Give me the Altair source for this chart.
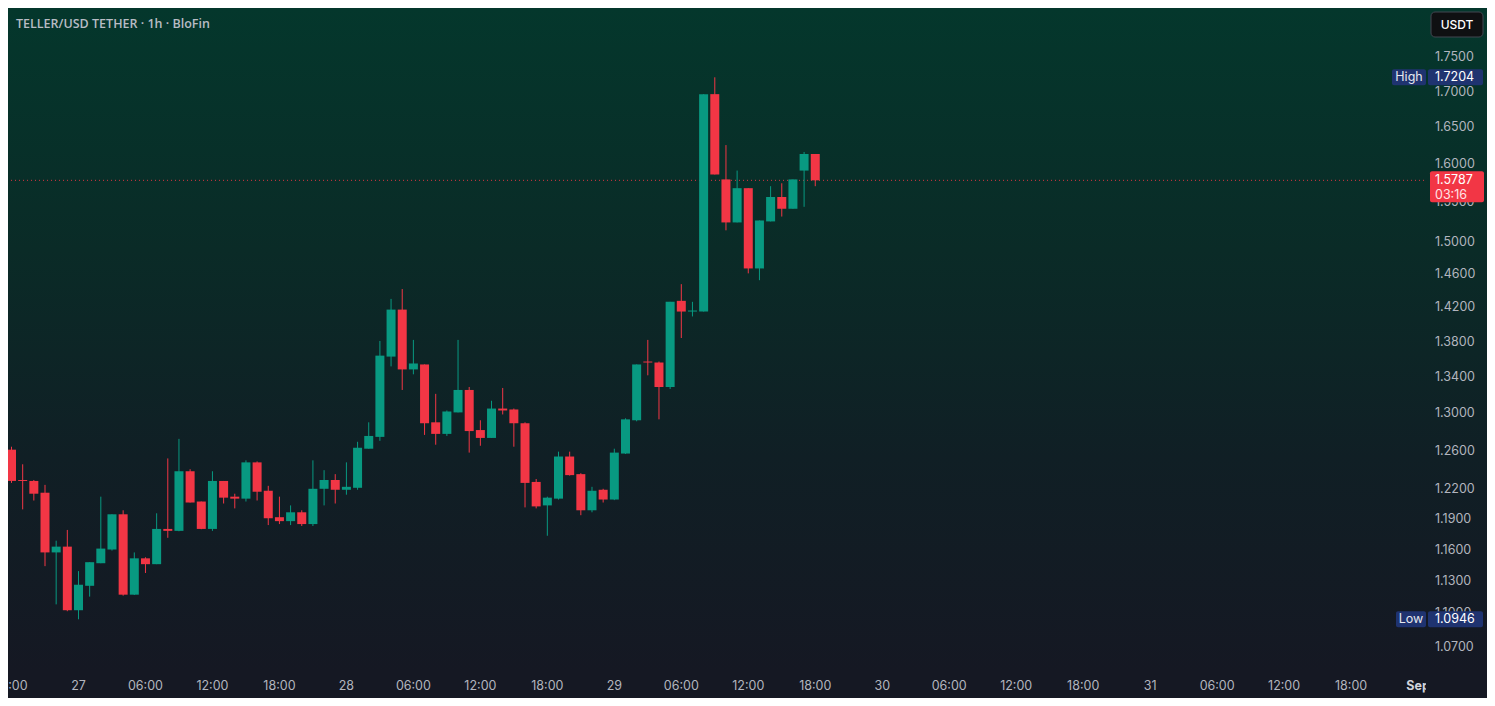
import altair as alt
import pandas as pd

# ---------------- data ----------------
times = pd.date_range("2025-08-26 18:00", periods=73, freq="h").strftime("%Y-%m-%dT%H:%M:%S").tolist()

opens = [1.2610, 1.2295, 1.2285, 1.2165, 1.1574, 1.1630, 1.1029, 1.1256, 1.1470, 1.1602,
         1.1948, 1.1173, 1.1517, 1.1461, 1.1803, 1.1784, 1.2385, 1.2076, 1.1803, 1.2285,
         1.2125, 1.2105, 1.2477, 1.2185, 1.1919, 1.1880, 1.1968, 1.1851, 1.2205, 1.2295,
         1.2195, 1.2215, 1.2620, 1.2745, 1.3628, 1.4173, 1.3483, 1.3539, 1.2901, 1.2777,
         1.3008, 1.3254, 1.2818, 1.2734, 1.3050, 1.3040, 1.2891, 1.2275, 1.2037, 1.2105,
         1.2538, 1.2355, 1.1988, 1.2195, 1.2096, 1.2569, 1.2923, 1.3572, 1.3561, 1.3287,
         1.4277, 1.4150, 1.4150, 1.6964, 1.5799, 1.5242, 1.5684, 1.4668, 1.5255, 1.5569,
         1.5417, 1.5916, 1.6138]
highs = [1.2641, 1.2457, 1.2295, 1.2245, 1.1688, 1.1793, 1.1395, 1.1480, 1.2125, 1.1948,
         1.1988, 1.1574, 1.1527, 1.1958, 1.2518, 1.2724, 1.2406, 1.2076, 1.2385, 1.2285,
         1.2155, 1.2498, 1.2487, 1.2235, 1.2125, 1.2037, 1.1988, 1.2498, 1.2396, 1.2355,
         1.2477, 1.2693, 1.2901, 1.3807, 1.4300, 1.4418, 1.3819, 1.3539, 1.3211, 1.3029,
         1.3819, 1.3287, 1.2923, 1.3135, 1.3276, 1.3050, 1.2901, 1.2305, 1.2125, 1.2589,
         1.2589, 1.2365, 1.2225, 1.2205, 1.2620, 1.2944, 1.3539, 1.3819, 1.3572, 1.4265,
         1.4477, 1.4265, 1.6964, 1.7204, 1.6258, 1.5916, 1.5684, 1.5267, 1.5710, 1.5748,
         1.5799, 1.6165, 1.6138]
lows = [1.2265, 1.1997, 1.2086, 1.1442, 1.1083, 1.1020, 1.0946, 1.1155, 1.1470, 1.1592,
        1.1164, 1.1170, 1.1377, 1.1461, 1.1716, 1.1780, 1.2066, 1.1800, 1.1784, 1.2056,
        1.2007, 1.2076, 1.2086, 1.1841, 1.1851, 1.1841, 1.1832, 1.1832, 1.2037, 1.2056,
        1.2145, 1.2195, 1.2620, 1.2703, 1.3517, 1.3254, 1.3428, 1.2766, 1.2662, 1.2755,
        1.3008, 1.2579, 1.2651, 1.2734, 1.2986, 1.2641, 1.2017, 1.2007, 1.1736, 1.2096,
        1.2340, 1.1939, 1.1968, 1.2066, 1.2090, 1.2565, 1.2912, 1.3417, 1.2933, 1.3265,
        1.3841, 1.4092, 1.4150, 1.5864, 1.5142, 1.5242, 1.4608, 1.4525, 1.5255, 1.5317,
        1.5417, 1.5442, 1.5710]
closes = [1.2285, 1.2285, 1.2155, 1.1574, 1.1630, 1.1029, 1.1266, 1.1480, 1.1611, 1.1948,
          1.1173, 1.1517, 1.1461, 1.1803, 1.1784, 1.2385, 1.2066, 1.1803, 1.2285, 1.2115,
          1.2105, 1.2477, 1.2175, 1.1909, 1.1880, 1.1968, 1.1851, 1.2205, 1.2295, 1.2195,
          1.2225, 1.2630, 1.2755, 1.3639, 1.4173, 1.3483, 1.3550, 1.2891, 1.2777, 1.3018,
          1.3254, 1.2807, 1.2734, 1.3050, 1.3029, 1.2891, 1.2265, 1.2027, 1.2115, 1.2538,
          1.2345, 1.1988, 1.2185, 1.2096, 1.2579, 1.2933, 1.3539, 1.3561, 1.3287, 1.4265,
          1.4150, 1.4162, 1.6964, 1.5864, 1.5242, 1.5684, 1.4668, 1.5267, 1.5569, 1.5417,
          1.5799, 1.6138, 1.5787]

ytick_values = [1.07, 1.10, 1.13, 1.16, 1.19, 1.22, 1.26, 1.30, 1.34, 1.38, 1.42,
                1.46, 1.50, 1.55, 1.60, 1.65, 1.70, 1.75]
xtick_times = pd.date_range("2025-08-26 18:00", "2025-08-31 18:00", freq="6h").strftime("%Y-%m-%dT%H:%M:%S").tolist()
xtick_labels = ["18:00", "27", "06:00", "12:00", "18:00", "28", "06:00", "12:00", "18:00",
                "29", "06:00", "12:00", "18:00", "30", "06:00", "12:00", "18:00",
                "31", "06:00", "12:00", "18:00"]
month_time = ["2025-09-01T00:00:00"]
month_label = ["Sep"]

title_text = "TELLER/USD TETHER · 1h · BloFin"
high_price = 1.7204
low_price = 1.0946
last_price = 1.5787
countdown = "03:16"
currency = "USDT"

# ---------------- styling ----------------
W, H = 1416, 664
PR, PB = 63, 26
GREEN = "#089981"
RED = "#f23645"
AXIS = "#b2b5be"
BLUE = "#1f3370"
BOTTOM = "#151823"
FONT = "Inter"
FS = 12.5

xscale = alt.Scale(domain=[alt.DateTime(year=2025, month=8, date=26, hours=18, minutes=8),
                           alt.DateTime(year=2025, month=9, date=1, hours=0, minutes=5)])
yscale = alt.Scale(type="log", domain=[1.0475, 1.8228], nice=False, zero=False)

df = pd.DataFrame({"t": times, "o": opens, "h": highs, "l": lows, "c": closes})
color = alt.condition("datum.c >= datum.o", alt.value(GREEN), alt.value(RED))
X = alt.X("t:T", scale=xscale, axis=None)

one = pd.DataFrame({"k": [0]})

bg = alt.Chart(one).mark_rect(
    color=alt.LinearGradient(
        gradient="linear", x1=0, y1=0, x2=0, y2=1,
        stops=[alt.GradientStop(color="#04372c", offset=0),
               alt.GradientStop(color="#0a2b27", offset=0.35),
               alt.GradientStop(color="#101f25", offset=0.65),
               alt.GradientStop(color=BOTTOM, offset=0.96),
               alt.GradientStop(color=BOTTOM, offset=1)])
).encode(x=alt.value(0), x2=alt.value(W + PR), y=alt.value(0), y2=alt.value(H + PB))

lastdf = pd.DataFrame({"p": [last_price], "txt": [f"{last_price:.4f}"], "cd": [countdown]})
priceline = alt.Chart(lastdf).mark_rule(color=RED, strokeDash=[1, 3], strokeWidth=1, opacity=0.9).encode(
    y=alt.Y("p:Q", scale=yscale, axis=None))

wicks = alt.Chart(df).mark_rule(strokeWidth=1).encode(
    x=X, y=alt.Y("l:Q", scale=yscale, axis=None), y2="h:Q", color=color)
bodies = alt.Chart(df).mark_bar(size=9).encode(
    x=X, y=alt.Y("o:Q", scale=yscale, axis=None), y2="c:Q", color=color)

ydf = pd.DataFrame({"v": ytick_values})
ylabels = alt.Chart(ydf).mark_text(align="left", baseline="middle", font=FONT, fontSize=FS, color=AXIS).encode(
    x=alt.value(W + 11), y=alt.Y("v:Q", scale=yscale, axis=None), text=alt.Text("v:Q", format=".4f"))

xdf = pd.DataFrame({"t": xtick_times, "lab": xtick_labels})
xlabels = alt.Chart(xdf).mark_text(align="center", baseline="middle", font=FONT, fontSize=FS, color=AXIS).encode(
    x=X, y=alt.value(H + 14), text="lab:N")
mdf = pd.DataFrame({"t": month_time, "lab": month_label})
mlabels = alt.Chart(mdf).mark_text(align="center", baseline="middle", font=FONT, fontSize=FS,
                                   fontWeight="bold", color="#d1d4dc").encode(
    x=X, y=alt.value(H + 14), text="lab:N")
cover = alt.Chart(one).mark_rect(color=BOTTOM).encode(
    x=alt.value(W + 2), x2=alt.value(W + PR), y=alt.value(H), y2=alt.value(H + PB))


def extreme_box(price, name, left):
    d = pd.DataFrame({"p": [price], "name": [name], "txt": [f"{price:.4f}"]})
    Y = alt.Y("p:Q", scale=yscale, axis=None)
    r1 = alt.Chart(d).mark_rect(color=BLUE, yOffset=-8, y2Offset=8, cornerRadius=2).encode(
        x=alt.value(W - left), x2=alt.value(W + 2), y=Y, y2="p:Q")
    r2 = alt.Chart(d).mark_rect(color=BLUE, yOffset=-8, y2Offset=8, cornerRadius=2).encode(
        x=alt.value(W + 4), x2=alt.value(W + 59), y=Y, y2="p:Q")
    t1 = alt.Chart(d).mark_text(align="center", baseline="middle", font=FONT, fontSize=FS, color="#e6e8ee").encode(
        x=alt.value(W - left / 2 + 1), y=Y, text="name:N")
    t2 = alt.Chart(d).mark_text(align="left", baseline="middle", font=FONT, fontSize=FS, color="#ffffff").encode(
        x=alt.value(W + 11), y=Y, text="txt:N")
    return [r1, r2, t1, t2]


highbox = extreme_box(high_price, "High", 32)
lowbox = extreme_box(low_price, "Low", 28)

YL = alt.Y("p:Q", scale=yscale, axis=None)
redbox = alt.Chart(lastdf).mark_rect(color=RED, yOffset=-9, y2Offset=22, cornerRadius=2).encode(
    x=alt.value(W + 6), x2=alt.value(W + 60), y=YL, y2="p:Q")
redtxt = alt.Chart(lastdf).mark_text(align="left", baseline="alphabetic", dy=4, font=FONT, fontSize=FS,
                                     color="#ffffff").encode(x=alt.value(W + 11), y=YL, text="txt:N")
redcd = alt.Chart(lastdf).mark_text(align="left", baseline="alphabetic", dy=19, font=FONT, fontSize=FS,
                                    color="#ffe3e6").encode(x=alt.value(W + 11), y=YL, text="cd:N")

tdf = pd.DataFrame({"txt": [title_text]})
title = alt.Chart(tdf).mark_text(align="left", baseline="alphabetic", font="Open Sans", fontSize=12.5,
                                 fontWeight=600, color="#b8bcc4").encode(
    x=alt.value(8), y=alt.value(20), text="txt:N")

cdf = pd.DataFrame({"txt": [currency]})
usdt_box = alt.Chart(cdf).mark_rect(color="#0f1012", stroke="#434651", strokeWidth=1, cornerRadius=4).encode(
    x=alt.value(W + 7), x2=alt.value(W + 59), y=alt.value(4), y2=alt.value(29))
usdt_txt = alt.Chart(cdf).mark_text(align="center", baseline="middle", font=FONT, fontSize=12,
                                    fontWeight=500, color="#ffffff").encode(
    x=alt.value(W + 33), y=alt.value(17), text="txt:N")

chart = alt.layer(
    bg, priceline, wicks, bodies, ylabels, xlabels, mlabels, cover,
    *highbox, *lowbox, redbox, redtxt, redcd, title, usdt_box, usdt_txt
).properties(
    width=W, height=H,
    autosize=alt.AutoSizeParams(type="none"),
    padding={"left": 0, "top": 0, "right": PR, "bottom": PB},
    background=BOTTOM,
).configure_view(stroke=None)

chart.save("out.html", embed_options={"renderer": "svg", "actions": False})
